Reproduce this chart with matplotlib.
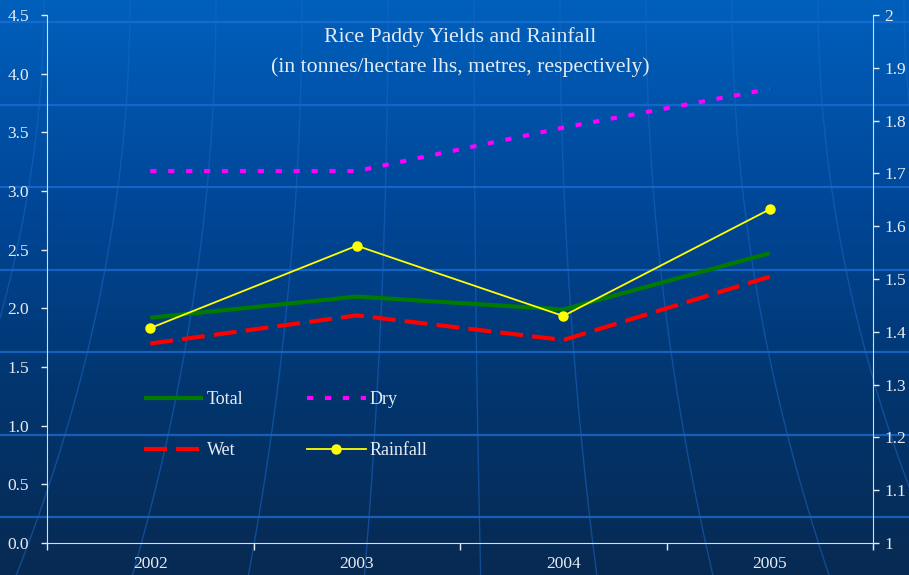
import numpy as np
import matplotlib
matplotlib.use("Agg")
import matplotlib.pyplot as plt
from matplotlib.colors import LinearSegmentedColormap

years = ["2002", "2003", "2004", "2005"]
total = [1.92, 2.10, 1.99, 2.47]
dry = [3.17, 3.17, 3.54, 3.87]
wet = [1.70, 1.94, 1.73, 2.27]
rainfall = [1.407, 1.563, 1.430, 1.632]

left_ticks = [0.0, 0.5, 1.0, 1.5, 2.0, 2.5, 3.0, 3.5, 4.0, 4.5]
right_ticks = [1.0, 1.1, 1.2, 1.3, 1.4, 1.5, 1.6, 1.7, 1.8, 1.9, 2.0]

plt.rcParams['font.family'] = ['Liberation Serif', 'DejaVu Serif']
txt = '#e6ecf4'

fig = plt.figure(figsize=(9.09, 5.75), dpi=100)

# background
bg = fig.add_axes([0, 0, 1, 1], zorder=0)
cmap = LinearSegmentedColormap.from_list('bg', ['#0060bc', '#00489a', '#023670', '#072a52'])
grad = np.linspace(0, 1, 256).reshape(-1, 1)
bg.imshow(grad, aspect='auto', cmap=cmap, extent=[0, 909, 575, 0])
bg.set_xlim(0, 909)
bg.set_ylim(575, 0)
for yy in [22, 104.5, 187, 269.5, 352, 434.5, 517]:
    bg.axhline(yy, color='#1c6fd6', lw=1.6, alpha=0.75)
ys = np.linspace(0, 575, 200)
for xt in np.arange(-300, 1250, 86):
    xs = xt + (xt - 455) * 0.35 * (ys / 575) ** 2
    bg.plot(xs, ys, color='#1a66c4', lw=1.0, alpha=0.55)
bg.axis('off')

ax = fig.add_axes([47 / 909, 1 - 543 / 575, 826 / 909, 528 / 575], zorder=2)
ax.patch.set_visible(False)
x = np.arange(len(years))
l_total, = ax.plot(x, total, color='#007a00', lw=3, solid_capstyle='butt')
l_dry, = ax.plot(x, dry, color='#ff00ff', lw=3, dashes=(1.5, 2.8))
l_wet, = ax.plot(x, wet, color='#ff0000', lw=3, dashes=(5.5, 2.2))
ax.set_xlim(-0.5, 3.5)
ax.set_ylim(0, 4.5)
ax.set_yticks(left_ticks)
ax.set_yticklabels([f"{v:.1f}" for v in left_ticks])
ax.set_xticks(x)
ax.set_xticklabels(years)
ax.set_xticks(np.arange(-0.5, 3.6, 1), minor=True)
ax.tick_params(axis='x', which='major', length=0, pad=9, colors=txt, labelsize=12.5)
ax.tick_params(axis='x', which='minor', length=5, width=1, color=txt, direction='out')
ax.tick_params(axis='y', length=4, width=1, colors=txt, labelsize=12.5, pad=9)
for s in ['top', 'right']:
    ax.spines[s].set_visible(False)
for s in ['left', 'bottom']:
    ax.spines[s].set_color('#d8dee8')

ax2 = ax.twinx()
ax2.patch.set_visible(False)
l_rain, = ax2.plot(x, rainfall, color='#ffff00', lw=1.3, marker='o', ms=6.5)
ax2.set_ylim(1, 2)
ax2.set_yticks(right_ticks)
ax2.set_yticklabels([f"{v:g}" for v in right_ticks])
ax2.tick_params(axis='y', length=4, width=1, colors=txt, labelsize=12.5, pad=4)
for s in ['top', 'left', 'bottom']:
    ax2.spines[s].set_visible(False)
ax2.spines['right'].set_color('#d8dee8')

leg = ax2.legend([l_total, l_wet, l_dry, l_rain], ['Total', 'Wet', 'Dry', 'Rainfall'],
                 ncol=2, frameon=False, loc='upper left', bbox_to_anchor=(0.117, 0.287),
                 borderaxespad=0, borderpad=0, handlelength=3.3, handletextpad=0.2,
                 columnspacing=3.5, labelspacing=1.88, prop={'size': 13})
for t in leg.get_texts():
    t.set_color(txt)

fig.text(460 / 909, 1 - 37 / 575, 'Rice Paddy Yields and Rainfall', ha='center', va='center',
         color=txt, fontsize=15.7)
fig.text(460 / 909, 1 - 67 / 575, '(in tonnes/hectare lhs, metres, respectively)', ha='center',
         va='center', color=txt, fontsize=15.7)

fig.savefig('out.png', dpi=100)
